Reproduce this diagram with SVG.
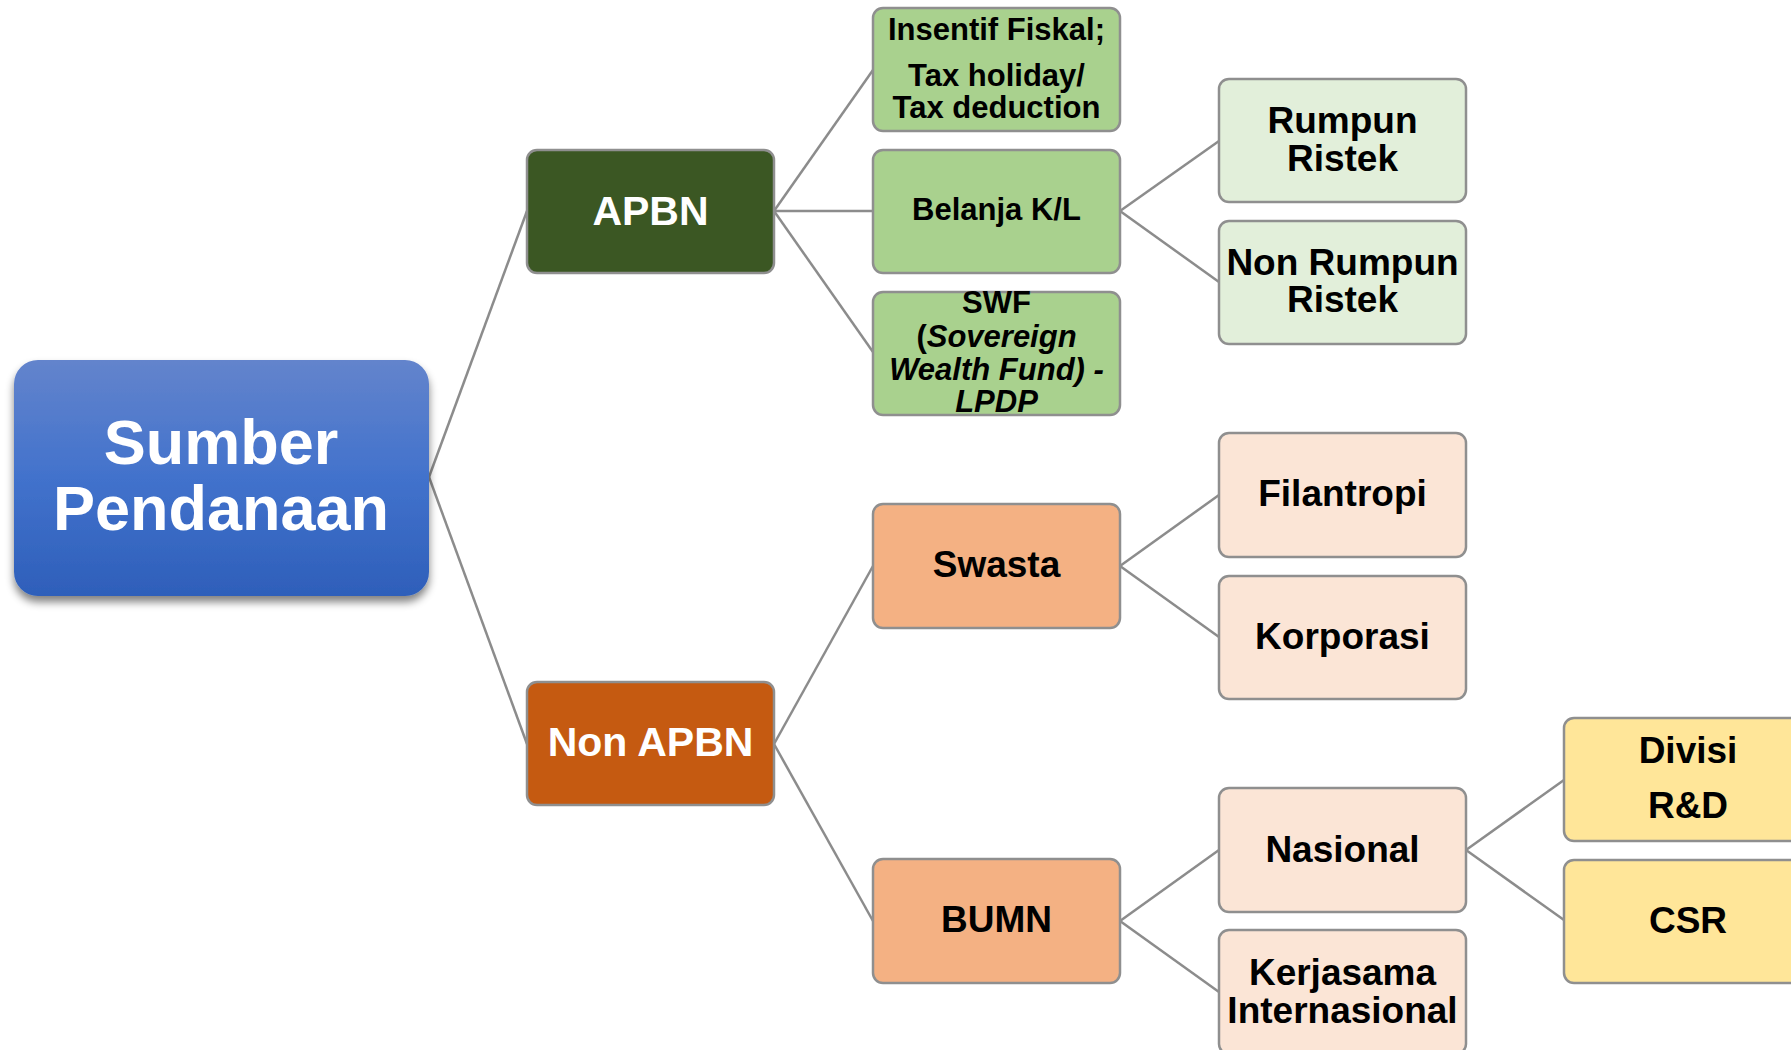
<svg xmlns="http://www.w3.org/2000/svg" width="1791" height="1050" viewBox="0 0 1791 1050">
<defs>
<linearGradient id="gBlue" x1="0" y1="0" x2="0" y2="1">
<stop offset="0" stop-color="#6384cc"/>
<stop offset="0.5" stop-color="#4272cc"/>
<stop offset="1" stop-color="#2e5fba"/>
</linearGradient>
<filter id="sh" x="-10%" y="-10%" width="120%" height="125%">
<feGaussianBlur in="SourceAlpha" stdDeviation="4"/>
<feOffset dx="0" dy="6" result="b"/>
<feComponentTransfer><feFuncA type="linear" slope="0.5"/></feComponentTransfer>
<feMerge><feMergeNode/><feMergeNode in="SourceGraphic"/></feMerge>
</filter>
<style>
.box{stroke:#8f8f8f;stroke-width:2.5}
.t{font-family:"Liberation Sans",Arial,sans-serif;font-weight:bold;text-anchor:middle;fill:#000}
.w{fill:#fff}
.s31{font-size:31px}
.s37{font-size:37px}
.s41{font-size:41px}
.i{font-style:italic}
.c{stroke:#8c8c8c;stroke-width:2.5;fill:none}
</style>
</defs>
<rect width="1791" height="1050" fill="#fff"/>

<g id="connectors">
<line class="c" x1="429" y1="477" x2="527" y2="211"/>
<line class="c" x1="429" y1="477" x2="527" y2="744"/>
<line class="c" x1="774" y1="211" x2="873" y2="70"/>
<line class="c" x1="774" y1="211" x2="873" y2="211"/>
<line class="c" x1="774" y1="211" x2="873" y2="352"/>
<line class="c" x1="1120" y1="211" x2="1219" y2="141"/>
<line class="c" x1="1120" y1="211" x2="1219" y2="282"/>
<line class="c" x1="774" y1="744" x2="873" y2="566"/>
<line class="c" x1="774" y1="744" x2="873" y2="921"/>
<line class="c" x1="1120" y1="566" x2="1219" y2="495"/>
<line class="c" x1="1120" y1="566" x2="1219" y2="637"/>
<line class="c" x1="1120" y1="921" x2="1219" y2="850"/>
<line class="c" x1="1120" y1="921" x2="1219" y2="992"/>
<line class="c" x1="1466" y1="850" x2="1564" y2="780"/>
<line class="c" x1="1466" y1="850" x2="1564" y2="920"/>
</g>

<g id="sumber">
<rect x="14" y="360" width="415" height="236" rx="24" fill="url(#gBlue)" filter="url(#sh)"/>
<text class="t w" x="221" y="464" font-size="63">Sumber</text>
<text class="t w" x="221" y="530" font-size="63">Pendanaan</text>
</g>

<g id="apbn">
<rect class="box" x="527" y="150" width="247" height="123" rx="10" fill="#3b5723"/>
<text class="t w s41" x="650.5" y="225">APBN</text>
</g>

<g id="nonapbn">
<rect class="box" x="527" y="682" width="247" height="123" rx="10" fill="#c55a11"/>
<text class="t w s41" x="650.5" y="756">Non APBN</text>
</g>

<g id="insentif">
<rect class="box" x="873" y="8" width="247" height="123" rx="10" fill="#a9d18e"/>
<text class="t s31" x="996.5" y="40">Insentif Fiskal;</text>
<text class="t s31" x="996.5" y="86">Tax holiday/</text>
<text class="t s31" x="996.5" y="118">Tax deduction</text>
</g>

<g id="belanja">
<rect class="box" x="873" y="150" width="247" height="123" rx="10" fill="#a9d18e"/>
<text class="t s31" x="996.5" y="220">Belanja K/L</text>
</g>

<g id="swf">
<rect class="box" x="873" y="292" width="247" height="123" rx="10" fill="#a9d18e"/>
<text class="t s31" x="996.5" y="313">SWF</text>
<text class="t s31" x="996.5" y="347">(<tspan class="i">Sovereign</tspan></text>
<text class="t s31 i" x="996.5" y="380">Wealth Fund) -</text>
<text class="t s31 i" x="996.5" y="412">LPDP</text>
</g>

<g id="rumpun">
<rect class="box" x="1219" y="79" width="247" height="123" rx="10" fill="#e2efda"/>
<text class="t s37" x="1342.5" y="133">Rumpun</text>
<text class="t s37" x="1342.5" y="171">Ristek</text>
</g>

<g id="nonrumpun">
<rect class="box" x="1219" y="221" width="247" height="123" rx="10" fill="#e2efda"/>
<text class="t s37" x="1342.5" y="275">Non Rumpun</text>
<text class="t s37" x="1342.5" y="312">Ristek</text>
</g>

<g id="swasta">
<rect class="box" x="873" y="504" width="247" height="124" rx="10" fill="#f4b183"/>
<text class="t s37" x="996.5" y="577">Swasta</text>
</g>

<g id="bumn">
<rect class="box" x="873" y="859" width="247" height="124" rx="10" fill="#f4b183"/>
<text class="t s37" x="996.5" y="932">BUMN</text>
</g>

<g id="filantropi">
<rect class="box" x="1219" y="433" width="247" height="124" rx="10" fill="#fbe5d6"/>
<text class="t s37" x="1342.5" y="506">Filantropi</text>
</g>

<g id="korporasi">
<rect class="box" x="1219" y="576" width="247" height="123" rx="10" fill="#fbe5d6"/>
<text class="t s37" x="1342.5" y="649">Korporasi</text>
</g>

<g id="nasional">
<rect class="box" x="1219" y="788" width="247" height="124" rx="10" fill="#fbe5d6"/>
<text class="t s37" x="1342.5" y="862">Nasional</text>
</g>

<g id="kerjasama">
<rect class="box" x="1219" y="930" width="247" height="124" rx="10" fill="#fbe5d6"/>
<text class="t s37" x="1342.5" y="985">Kerjasama</text>
<text class="t s37" x="1342.5" y="1023">Internasional</text>
</g>

<g id="divisi">
<rect class="box" x="1564" y="718" width="248" height="123" rx="10" fill="#ffe699"/>
<text class="t s37" x="1688" y="763">Divisi</text>
<text class="t s37" x="1688" y="818">R&amp;D</text>
</g>

<g id="csr">
<rect class="box" x="1564" y="860" width="248" height="123" rx="10" fill="#ffe699"/>
<text class="t s37" x="1688" y="933">CSR</text>
</g>
</svg>
